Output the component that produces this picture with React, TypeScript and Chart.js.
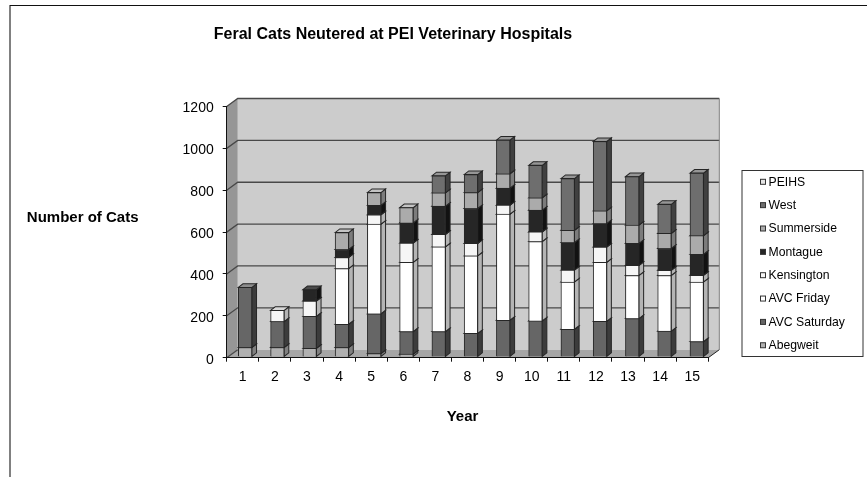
import React, { useEffect, useRef } from "react";
import { Chart, registerables } from "chart.js";

Chart.register(...registerables);

const FONT = '"Liberation Sans", Arial, sans-serif';

const title = "Feral Cats Neutered at PEI Veterinary Hospitals";
const yTitle = "Number of Cats";
const xTitle = "Year";
const years = ["1", "2", "3", "4", "5", "6", "7", "8", "9", "10", "11", "12", "13", "14", "15"];

const abegweit = [45, 45, 41, 45, 16, 13, 0, 0, 0, 0, 0, 0, 0, 0, 0];
const avcSaturday = [287, 124, 153, 111, 190, 108, 121, 112, 175, 172, 132, 170, 183, 123, 73];
const avcFriday = [0, 0, 0, 266, 428, 331, 405, 371, 507, 379, 226, 282, 206, 266, 285];
const kensington = [0, 53, 73, 53, 45, 92, 59, 59, 43, 46, 57, 73, 48, 25, 32];
const montague = [0, 0, 54, 38, 45, 96, 135, 167, 81, 104, 131, 112, 105, 104, 100];
const summerside = [0, 0, 0, 81, 61, 73, 64, 76, 69, 59, 59, 61, 88, 72, 89];
const west = [0, 0, 0, 0, 0, 0, 81, 86, 161, 155, 247, 331, 231, 139, 299];
const peihs = [0, 0, 0, 0, 0, 0, 0, 0, 0, 0, 0, 0, 0, 0, 0];

const seriesDefs = [
  { label: "Abegweit", data: abegweit, fill: "#b0b0b0", side: "#808080", top: "#c8c8c8" },
  { label: "AVC Saturday", data: avcSaturday, fill: "#666666", side: "#3c3c3c", top: "#8c8c8c" },
  { label: "AVC Friday", data: avcFriday, fill: "#ffffff", side: "#b4b4b4", top: "#e0e0e0" },
  { label: "Kensington", data: kensington, fill: "#f6f6f6", side: "#b4b4b4", top: "#d8d8d8" },
  { label: "Montague", data: montague, fill: "#262626", side: "#121212", top: "#4a4a4a" },
  { label: "Summerside", data: summerside, fill: "#ababab", side: "#7c7c7c", top: "#c4c4c4" },
  { label: "West", data: west, fill: "#6e6e6e", side: "#404040", top: "#969696" },
  { label: "PEIHS", data: peihs, fill: "#e4e4e4", side: "#a0a0a0", top: "#f0f0f0" },
];

const WALL_DX = 11;
const WALL_DY = -8;
const BAR_DX = 4.6;
const BAR_DY = -3.6;
const BAR_SHIFT_X = 2.3;
const BAR_SHIFT_Y = -0.8;
const BAR_STRETCH = 1.0047;

function poly(ctx: CanvasRenderingContext2D, pts: number[][], fill: string | null, stroke: string | null, lw = 1) {
  ctx.beginPath();
  pts.forEach((p, i) => (i ? ctx.lineTo(p[0], p[1]) : ctx.moveTo(p[0], p[1])));
  ctx.closePath();
  if (fill) {
    ctx.fillStyle = fill;
    ctx.fill();
  }
  if (stroke) {
    ctx.strokeStyle = stroke;
    ctx.lineWidth = lw;
    ctx.stroke();
  }
}

function label(ctx: CanvasRenderingContext2D, text: string, x: number, y: number, font: string, align: CanvasTextAlign) {
  ctx.font = font;
  ctx.fillStyle = "#000";
  ctx.textAlign = align;
  ctx.textBaseline = "middle";
  ctx.fillText(text, x, y);
}

const scene3d = {
  id: "scene3d",
  beforeDraw(chart: any) {
    const { ctx, chartArea: a, scales } = chart;
    const y = scales.y;
    const L = a.left, R = a.right, T = a.top, B = a.bottom;
    ctx.save();
    // outer frame
    ctx.fillStyle = "#808080";
    ctx.fillRect(9, 5, 2, 472);
    ctx.fillStyle = "#111";
    ctx.fillRect(10, 5, 857, 1);
    // back wall, left wall, floor
    poly(ctx, [[L + WALL_DX, T + WALL_DY], [R + WALL_DX, T + WALL_DY], [R + WALL_DX, B + WALL_DY], [L + WALL_DX, B + WALL_DY]], "#cccccc", null);
    poly(ctx, [[L, T], [L + WALL_DX, T + WALL_DY], [L + WALL_DX, B + WALL_DY], [L, B]], "#969696", null);
    poly(ctx, [[L, B], [L + WALL_DX, B + WALL_DY], [R + WALL_DX, B + WALL_DY], [R, B]], "#a6a6a6", null);
    // grid lines, taken from the value scale
    ctx.strokeStyle = "#484848";
    ctx.lineWidth = 1.3;
    y.ticks.forEach((t: any) => {
      const py = y.getPixelForValue(t.value);
      ctx.beginPath();
      ctx.moveTo(L, py);
      ctx.lineTo(L + WALL_DX, py + WALL_DY);
      if (t.value !== 0) ctx.lineTo(R + WALL_DX, py + WALL_DY);
      ctx.stroke();
    });
    ctx.strokeStyle = "#808080";
    ctx.lineWidth = 1;
    ctx.beginPath();
    ctx.moveTo(R + WALL_DX, T + WALL_DY);
    ctx.lineTo(R + WALL_DX, B + WALL_DY);
    ctx.stroke();
    ctx.strokeStyle = "#222";
    ctx.beginPath();
    ctx.moveTo(R + WALL_DX, B + WALL_DY);
    ctx.lineTo(R, B);
    ctx.stroke();
    ctx.restore();
  },
  beforeDatasetsDraw(chart: any) {
    const { ctx, chartArea } = chart;
    ctx.save();
    // bars stand mid-way in the floor's depth: map scale pixels onto the floor
    ctx.transform(BAR_STRETCH, 0, 0, 1, BAR_SHIFT_X + chartArea.left * (1 - BAR_STRETCH), BAR_SHIFT_Y);
    chart.data.datasets.forEach((ds: any, di: number) => {
      const def = seriesDefs[di];
      chart.getDatasetMeta(di).data.forEach((bar: any, i: number) => {
        if (!ds.data[i]) return;
        const p = bar.getProps(["x", "y", "base", "width"], true);
        const r = p.x + p.width / 2;
        const l = p.x - p.width / 2;
        poly(ctx, [[r, p.y], [r + BAR_DX, p.y + BAR_DY], [r + BAR_DX, p.base + BAR_DY], [r, p.base]], def.side, "#262626", 1);
        poly(ctx, [[l, p.y], [l + BAR_DX, p.y + BAR_DY], [r + BAR_DX, p.y + BAR_DY], [r, p.y]], def.top, "#262626", 1);
      });
    });
  },
  afterDatasetsDraw(chart: any) {
    chart.ctx.restore();
  },
  afterDraw(chart: any) {
    const { ctx } = chart;
    ctx.save();
    label(ctx, title, 393, 35, `bold 16px ${FONT}`, "center");
    label(ctx, yTitle, 82.7, 217.5, `bold 15px ${FONT}`, "center");
    label(ctx, xTitle, 462.5, 416.5, `bold 15px ${FONT}`, "center");
    // legend box
    ctx.strokeStyle = "#333";
    ctx.lineWidth = 1;
    ctx.strokeRect(742, 170.5, 121, 186);
    const items = [...chart.data.datasets].reverse();
    items.forEach((ds: any, i: number) => {
      const cy = 182.3 + i * 23.35;
      ctx.fillStyle = ds.backgroundColor;
      ctx.fillRect(760.5, cy - 3, 5, 5);
      ctx.strokeStyle = "#333";
      ctx.strokeRect(760.5, cy - 3, 5, 5);
      label(ctx, ds.label, 768.5, cy, `12.2px ${FONT}`, "left");
    });
    ctx.restore();
  },
};

export default function App() {
  const ref = useRef<HTMLCanvasElement>(null);
  useEffect(() => {
    document.body.style.margin = "0";
    const chart = new Chart(ref.current!, {
      type: "bar",
      data: {
        labels: years,
        datasets: seriesDefs.map((s) => ({
          label: s.label,
          data: s.data,
          backgroundColor: s.fill,
          borderColor: "#262626",
          borderWidth: 1,
          barThickness: 13.5,
          clip: false,
        })),
      },
      options: {
        responsive: false,
        animation: false,
        layout: { padding: { top: 106.5, right: 158.7, left: 0, bottom: 0 } },
        plugins: { legend: { display: false }, title: { display: false }, tooltip: { enabled: false } },
        scales: {
          x: {
            stacked: true,
            afterFit: (s: any) => { s.height = 477 - 357.7; },
            grid: { drawOnChartArea: false, color: "#111", tickLength: 4 },
            border: { color: "#111" },
            ticks: { color: "#000", font: { family: FONT, size: 14 }, padding: 7, maxRotation: 0, autoSkip: false },
          },
          y: {
            stacked: true,
            min: 0,
            max: 1200,
            afterFit: (s: any) => { s.width = 226.7; },
            grid: { drawOnChartArea: false, color: "#111", tickLength: 4 },
            border: { color: "#111" },
            ticks: { color: "#000", font: { family: FONT, size: 14 }, padding: 9, labelOffset: 2, stepSize: 200, callback: (v: any) => String(v) },
          },
        },
      },
      plugins: [scene3d],
    } as any);
    return () => chart.destroy();
  }, []);
  return <canvas ref={ref} width={867} height={477} style={{ display: "block" }} />;
}
